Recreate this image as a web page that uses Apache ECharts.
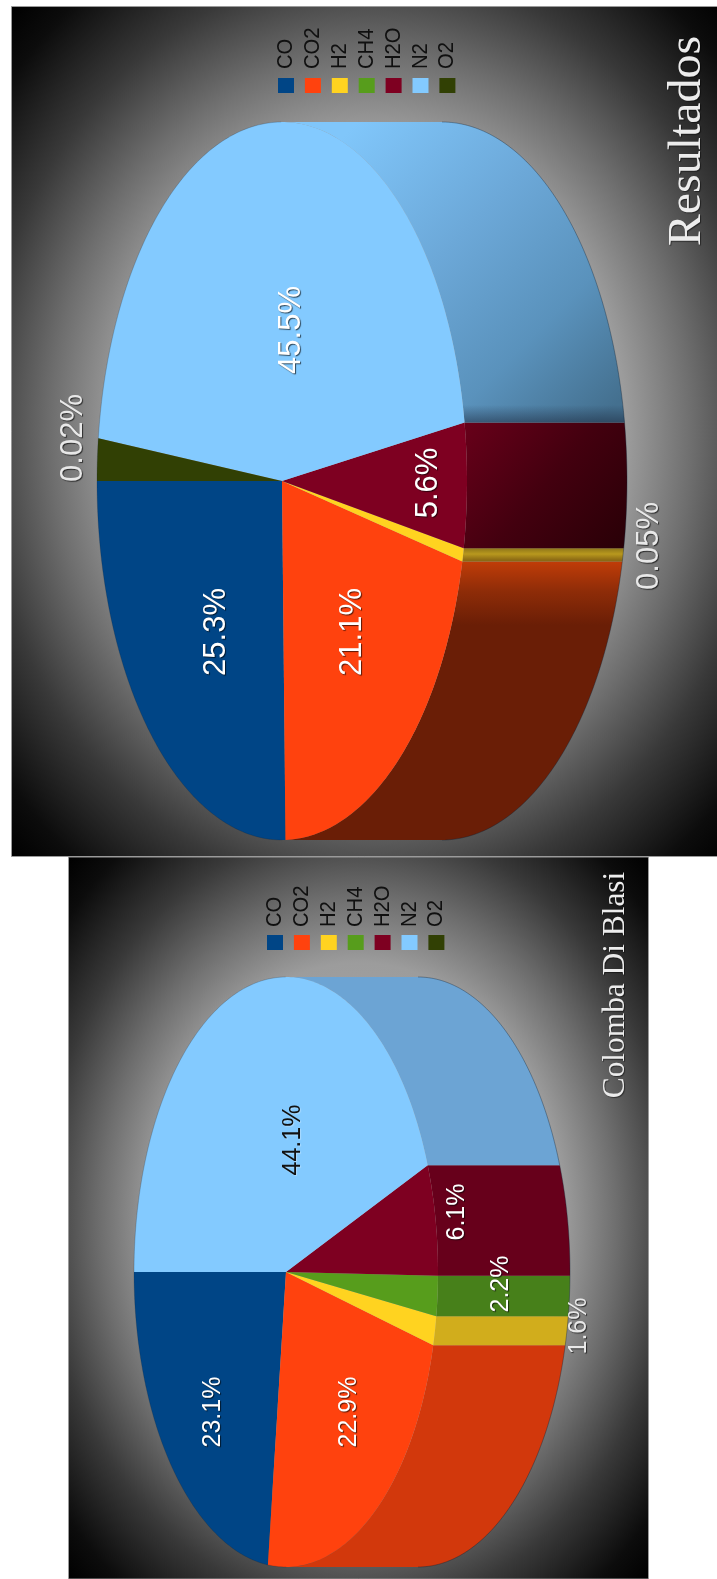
<!DOCTYPE html>
<html>
<head>
<meta charset="utf-8">
<title>Resultados</title>
<script src="https://cdn.jsdelivr.net/npm/echarts@6/dist/echarts.min.js"></script>
<style>
    html, body { margin: 0; padding: 0; background: #fff; }
    #chart { width: 717px; height: 1579px; filter: blur(0.5px); }
</style>
</head>
<body>
<div id="chart"></div>
<script>
// 两张图共用的类别和颜色
const gases = ["CO", "CO2", "H2", "CH4", "H2O", "N2", "O2"];
const faceColors = ["#004586", "#ff420e", "#ffd320", "#579d1c", "#7e0021", "#83caff", "#314004"];

// 切片大小和标注文字（原图标注与切片不完全一致，分开保存）
const resultadosValues = [25.3, 21.1, 0.6, 0, 5.6, 45.5, 1.9];
const resultadosLabels = ["25.3%", "21.1%", "0.05%", "", "5.6%", "45.5%", "0.02%"];
const colombaValues = [23.1, 22.9, 1.6, 2.2, 6.1, 44.1, 0];
const colombaLabels = ["23.1%", "22.9%", "1.6%", "2.2%", "6.1%", "44.1%", ""];

const LinearGradient = echarts.graphic.LinearGradient;
const RadialGradient = echarts.graphic.RadialGradient;

function vGrad(y0, y1, stops) {
    return new LinearGradient(0, y0, 0, y1, stops.map((c, i) => ({ offset: i / (stops.length - 1), color: c })), true);
}

// 布局
const resultadosLayout = {
    cx: 282, cy: 481, rx: 185, ry: 359, depth: 160,
    labelPos: [[216, 632], [352, 632], [649, 546], null, [428, 483], [291, 330], [73, 438]],
    labelSize: 31,
    labelColors: ["#fff", "#fff", "#e8e8e8", "", "#fff", "#fff", "#e8e8e8"],
    wallFills: [
        "#004586",
        vGrad(558, 625, ["#c63e08", "#8e2c08", "#6a1e06"]),
        vGrad(548, 560, ["#8c7418", "#b8981e", "#8c6a14"]),
        "#579d1c",
        new LinearGradient(470, 424, 620, 548, [
            { offset: 0, color: "#660019" },
            { offset: 0.5, color: "#43000f" },
            { offset: 1, color: "#2a0007" },
        ], true),
        new LinearGradient(350, 130, 620, 400, [
            { offset: 0, color: "#80c6fa" },
            { offset: 0.4, color: "#6ca8d8" },
            { offset: 0.72, color: "#5a92bc" },
            { offset: 1, color: "#44708f" },
        ], true),
        "#314004",
    ],
    wallShades: [null, null, null, null, null, vGrad(405, 423, ["rgba(25,35,55,0)", "rgba(25,35,55,0.5)"]), null],
};
const colombaLayout = {
    cx: 286, cy: 1272, rx: 152, ry: 295, depth: 132,
    labelPos: [[213, 1412], [349, 1412], [579, 1326], [501, 1284], [457, 1212], [293, 1140], null],
    labelSize: 25,
    labelColors: ["#fff", "#fff", "#e8e8e8", "#fff", "#fff", "#111", ""],
    wallFills: ["#003a70", "#d2380c", "#d1ad1c", "#47801a", "#67001b", "#6ca4d4", "#283403"],
    wallShades: [],
};

// 0% 在屏幕左侧，逆时针（屏幕上）增长
function ellipsePoint(lay, deg, shift) {
    const t = deg * Math.PI / 180;
    return [lay.cx - lay.rx * Math.cos(t) + (shift || 0), lay.cy + lay.ry * Math.sin(t)];
}

function arc(lay, from, to, shift) {
    const pts = [];
    const n = Math.max(1, Math.ceil(Math.abs(to - from)));
    for (let i = 0; i <= n; i++) {
        pts.push(ellipsePoint(lay, from + (to - from) * i / n, shift));
    }
    return pts;
}

function cumulative(values) {
    let sum = 0;
    return values.map((v, i) => {
        const row = [sum, sum + v, i];
        sum += v;
        return row;
    });
}

function pieSeries(values, labels, lay) {
    return {
        type: "custom",
        coordinateSystem: "none",
        silent: true,
        animation: false,
        data: cumulative(values),
        renderItem(params, api) {
            const idx = api.value(2);
            const t0 = api.value(0) * 3.6;
            const t1 = api.value(1) * 3.6;
            const children = [];
            if (t1 <= t0) return { type: "group", children };

            // 侧面只有朝下的半圈可见
            const w0 = Math.max(t0, 90);
            const w1 = Math.min(t1, 270);
            if (w1 > w0) {
                const wall = arc(lay, w0, w1).concat(arc(lay, w1, w0, lay.depth));
                children.push({ type: "polygon", shape: { points: wall }, style: { fill: lay.wallFills[idx] } });
                if (lay.wallShades[idx]) {
                    children.push({ type: "polygon", shape: { points: wall }, style: { fill: lay.wallShades[idx] } });
                }
                children.push({
                    type: "polyline",
                    shape: { points: arc(lay, w0, w1, lay.depth) },
                    style: { fill: "none", stroke: "rgba(10,30,50,0.35)", lineWidth: 1 },
                });
            }

            const edge = arc(lay, t0, t1);
            children.push({
                type: "polygon",
                shape: { points: [[lay.cx, lay.cy]].concat(edge) },
                style: { fill: faceColors[idx] },
            });
            if (t0 < 90 || t1 > 270) {
                children.push({
                    type: "polyline",
                    shape: { points: edge.filter((p) => p[0] < lay.cx + 2) },
                    style: { fill: "none", stroke: "rgba(10,30,50,0.2)", lineWidth: 1 },
                });
            }

            const pos = lay.labelPos[idx];
            if (pos && labels[idx]) {
                children.push({
                    type: "text",
                    x: pos[0],
                    y: pos[1],
                    z2: 100,
                    rotation: Math.PI / 2,
                    style: {
                        text: labels[idx],
                        x: 0,
                        y: 0,
                        align: "center",
                        verticalAlign: "middle",
                        font: lay.labelSize + 'px "Liberation Sans"',
                        fill: lay.labelColors[idx],
                        textShadowColor: lay.labelColors[idx] === "#111" ? "rgba(255,255,255,0.3)" : "rgba(0,0,0,0.65)",
                        textShadowBlur: 1,
                        textShadowOffsetX: 1,
                        textShadowOffsetY: 1,
                    },
                });
            }
            return { type: "group", children };
        },
    };
}

// 背景：方形径向渐变再拉伸成椭圆
function panel(x, y, w, h, z) {
    const grad = new RadialGradient(0.5, 0.5, 0.7071, [
        { offset: 0, color: "#b4b4b4" },
        { offset: 0.5, color: "#9c9c9c" },
        { offset: 0.63, color: "#6e6e6e" },
        { offset: 0.77, color: "#393939" },
        { offset: 0.92, color: "#0c0c0c" },
        { offset: 1, color: "#000000" },
    ]);
    return [
        {
            type: "rect",
            x: x,
            y: y,
            scaleY: h / w,
            shape: { x: 0, y: 0, width: w, height: w },
            style: { fill: grad },
            z: z,
        },
        {
            type: "rect",
            shape: { x: x, y: y, width: w, height: h },
            style: { fill: "none", stroke: "#9a9a9a", lineWidth: 1 },
            z: z,
        },
    ];
}

function legend(firstX, swatchY, textY) {
    const els = [];
    gases.forEach((name, i) => {
        const cx = firstX + i * 26.9;
        els.push({
            type: "rect",
            shape: { x: cx - 8, y: swatchY, width: 16, height: 15 },
            style: { fill: faceColors[i] },
            z: 5,
        });
        els.push({
            type: "text",
            x: cx,
            y: textY,
            rotation: Math.PI / 2,
            scaleX: 0.92,
            style: {
                text: name,
                align: "left",
                verticalAlign: "middle",
                font: '22px "Liberation Sans"',
                fill: "#101010",
            },
            z: 5,
        });
    });
    return els;
}

function title(text, x, y, size, scale) {
    return {
        type: "text",
        x: x,
        y: y,
        rotation: Math.PI / 2,
        scaleX: scale,
        style: {
            text: text,
            align: "center",
            verticalAlign: "middle",
            font: size + 'px "Liberation Serif"',
            fill: "#ececec",
            textShadowColor: "rgba(0,0,0,0.5)",
            textShadowBlur: 1,
            textShadowOffsetX: 1,
            textShadowOffsetY: 1,
        },
        z: 5,
    };
}

const chart = echarts.init(document.getElementById("chart"));
chart.setOption({
    backgroundColor: "#fff",
    graphic: {
        elements: [].concat(
            panel(68.5, 857, 580, 722, 0),
            panel(11.5, 6.5, 720, 850, 1),
            legend(286, 78, 69),
            legend(275, 935, 927),
            [title("Resultados", 688, 141, 47, 1.02), title("Colomba Di Blasi", 616, 985, 32, 0.98)]
        ),
    },
    series: [
        pieSeries(resultadosValues, resultadosLabels, resultadosLayout),
        pieSeries(colombaValues, colombaLabels, colombaLayout),
    ],
});
</script>
</body>
</html>
